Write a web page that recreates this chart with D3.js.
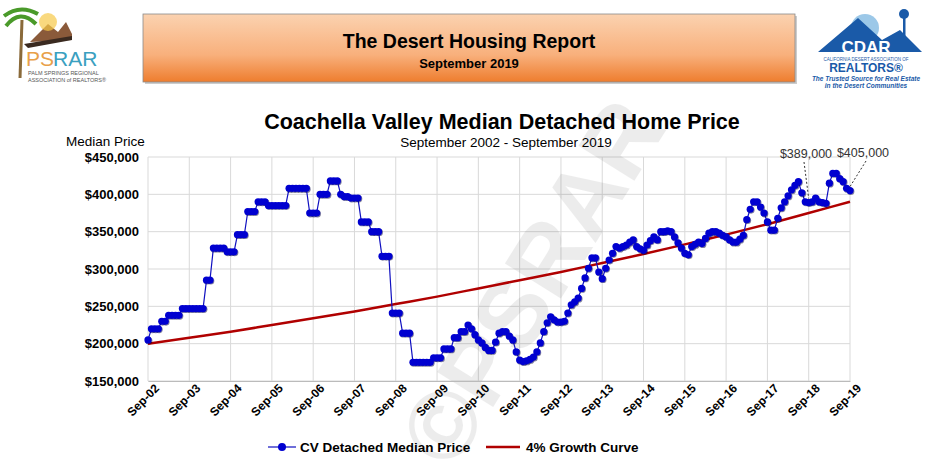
<!DOCTYPE html>
<html><head><meta charset="utf-8">
<script src="https://cdn.jsdelivr.net/npm/d3@7"></script>
<style>body{margin:0;background:#fff;font-family:Arial,"Liberation Sans",sans-serif}</style>
</head><body><div id="chart"></div>
<script>
// données (milliers de $), mensuel Sep-02 -> Sep-19
const medianPrice = [
205,220,220,220,230,230,238,238,238,238,247,247,247,247,247,247,247,285,285,328,
328,328,328,323,323,323,346,346,346,377,377,377,390,390,390,385,385,385,385,385,
385,408,408,408,408,408,408,375,375,375,400,400,400,418,418,418,400,397,397,395,
395,395,363,363,363,350,350,350,317,317,317,241,241,241,214,214,214,175,175,175,
175,175,175,181,181,181,193,193,193,208,208,216,216,225,220,212,205,201,195,191,
191,202,214,216,216,210,205,189,178,176,177,179,182,189,201,216,228,236,232,229,
229,230,241,252,256,261,274,288,301,315,315,296,287,301,312,321,330,328,330,332,
336,339,330,327,325,332,338,343,339,350,350,351,350,343,335,328,321,319,330,333,
336,334,341,348,350,350,348,345,343,339,336,336,340,345,366,380,390,390,383,375,
363,352,352,368,382,390,398,406,412,417,402,390,389,390,395,390,389,388,415,428,
428,421,417,408,405];
// courbe de croissance 4 % (valeur chaque septembre, milliers de $)
const growthCurve = [200,208,216,225,234,243,253,263,274,285,296,308,320,333,346,360,375,390];
const yearLabels = ["Sep-02","Sep-03","Sep-04","Sep-05","Sep-06","Sep-07","Sep-08","Sep-09","Sep-10",
  "Sep-11","Sep-12","Sep-13","Sep-14","Sep-15","Sep-16","Sep-17","Sep-18","Sep-19"];
const yTicks = [150,200,250,300,350,400,450];
const annotations = [{i:192, label:"$389,000", lx:806, ly:158}, {i:204, label:"$405,000", lx:863, ly:157}];

const W = 935, H = 463;
const svg = d3.select("#chart").append("svg").attr("width", W).attr("height", H);
const defs = svg.append("defs");
const grad = defs.append("linearGradient").attr("id","hdr").attr("x1",0).attr("y1",0).attr("x2",0).attr("y2",1);
grad.append("stop").attr("offset","0%").attr("stop-color","#fbd2b0");
grad.append("stop").attr("offset","60%").attr("stop-color","#f8b07c");
grad.append("stop").attr("offset","100%").attr("stop-color","#ee7d2e");

// en-tête
svg.append("rect").attr("x",145).attr("y",16).attr("width",652).attr("height",68)
  .attr("fill","#999").attr("opacity",0.5);
svg.append("rect").attr("x",143).attr("y",14).attr("width",652).attr("height",68)
  .attr("fill","url(#hdr)").attr("stroke","#8a8a8a").attr("stroke-width",0.8);
svg.append("text").attr("x",469).attr("y",48).attr("text-anchor","middle")
  .style("font-size","19.5px").style("font-weight","bold").text("The Desert Housing Report");
svg.append("text").attr("x",469).attr("y",68).attr("text-anchor","middle")
  .style("font-size","13px").style("font-weight","bold").text("September 2019");

// logo PSRAR (simplifié)
const lg = svg.append("g");
lg.append("path").attr("d","M30,42 L48,24 L58,32 L66,22 L72,34 L72,40 Z").attr("fill","#8a5a3a");
lg.append("circle").attr("cx",48).attr("cy",22).attr("r",9).attr("fill","#f7c948").attr("opacity",0.7);
lg.append("path").attr("d","M24,44 L72,36 L72,40 L28,48 Z").attr("fill","#3a2a20");
lg.append("line").attr("x1",22).attr("y1",20).attr("x2",20).attr("y2",78).attr("stroke","#8a6a3a").attr("stroke-width",3);
lg.append("path").attr("d","M4,16 Q20,4 38,14 M6,26 Q20,8 36,24").attr("fill","none").attr("stroke","#4a9a2a").attr("stroke-width",4);
lg.append("text").attr("x",26).attr("y",66).style("font-size","21px").style("fill","#e8a048").text("PS");
lg.append("text").attr("x",53).attr("y",66).style("font-size","21px").style("fill","#3aa0c0").text("RAR");
lg.append("text").attr("x",28).attr("y",75).style("font-size","5.5px").style("fill","#555").text("PALM SPRINGS REGIONAL");
lg.append("text").attr("x",28).attr("y",82).style("font-size","5.5px").style("fill","#555").text("ASSOCIATION of REALTORS®");

// logo CDAR (simplifié)
const cg = svg.append("g");
cg.append("circle").attr("cx",865).attr("cy",28).attr("r",14).attr("fill","#9cc8e8");
cg.append("path").attr("d","M818,52 L858,18 L882,40 L900,30 L922,52 Z").attr("fill","#1a5aa8");
cg.append("rect").attr("x",903).attr("y",14).attr("width",2.5).attr("height",30).attr("fill","#1a5aa8");
cg.append("circle").attr("cx",904).attr("cy",14).attr("r",5).attr("fill","#1a5aa8");
cg.append("text").attr("x",866).attr("y",53).attr("text-anchor","middle").style("font-size","17px")
  .style("font-weight","bold").style("fill","#fff").text("CDAR");
cg.append("text").attr("x",866).attr("y",61).attr("text-anchor","middle").style("font-size","4.5px")
  .style("fill","#1a5aa8").text("CALIFORNIA DESERT ASSOCIATION OF");
cg.append("text").attr("x",866).attr("y",72).attr("text-anchor","middle").style("font-size","12px")
  .style("font-weight","bold").style("fill","#1a5aa8").text("REALTORS®");
cg.append("text").attr("x",866).attr("y",81).attr("text-anchor","middle").style("font-size","6.5px")
  .style("font-style","italic").style("font-weight","bold").style("fill","#1a5aa8").text("The Trusted Source for Real Estate");
cg.append("text").attr("x",866).attr("y",88).attr("text-anchor","middle").style("font-size","6.5px")
  .style("font-style","italic").style("font-weight","bold").style("fill","#1a5aa8").text("in the Desert Communities");

// titres
svg.append("text").attr("x",502).attr("y",129).attr("text-anchor","middle")
  .style("font-size","21.5px").style("font-weight","bold").text("Coachella Valley Median Detached Home Price");
svg.append("text").attr("x",506).attr("y",147).attr("text-anchor","middle")
  .style("font-size","13.5px").text("September 2002 - September 2019");
svg.append("text").attr("x",66).attr("y",146).style("font-size","13.5px").text("Median Price");

// échelles
const x = d3.scaleLinear().domain([0, 204]).range([148, 850]);
const y = d3.scaleLinear().domain([150, 450]).range([381, 157]);

const grid = svg.append("g");
grid.selectAll(".gy").data(yTicks).join("line")
  .attr("x1",148).attr("x2",850).attr("y1",d=>y(d)).attr("y2",d=>y(d))
  .attr("stroke","#d9d9d9");
grid.selectAll(".gx").data(yearLabels).join("line")
  .attr("x1",(d,i)=>x(i*12)).attr("x2",(d,i)=>x(i*12)).attr("y1",157).attr("y2",381)
  .attr("stroke","#d9d9d9");

// filigrane
svg.append("text").attr("transform","translate(560,300) rotate(-58)").attr("text-anchor","middle")
  .style("font-size","96px").style("font-weight","bold").style("fill","#000").style("opacity",0.07)
  .text("©PSRAR");

// axes
const yAxis = d3.axisLeft(y).tickValues(yTicks).tickSize(0).tickPadding(9)
  .tickFormat(d => "$" + d3.format(",")(d*1000));
svg.append("g").attr("transform","translate(148,0)").call(yAxis)
  .call(g=>g.select(".domain").remove())
  .selectAll("text").style("font-size","13px").style("font-weight","bold").style("font-family","Arial,'Liberation Sans',sans-serif");

const xAxis = d3.axisBottom(x).tickValues(d3.range(0,205,12)).tickSize(0)
  .tickFormat((d,i)=>yearLabels[i]);
svg.append("g").attr("transform","translate(0,381)").call(xAxis)
  .call(g=>g.select(".domain").attr("stroke","#bbb"))
  .selectAll("text").attr("text-anchor","end").attr("dx","0.2em").attr("dy","0.9em")
  .attr("transform","rotate(-45)")
  .style("font-size","12px").style("font-weight","bold").style("font-family","Arial,'Liberation Sans',sans-serif");

// courbe 4 %
const line = d3.line().curve(d3.curveMonotoneX);
svg.append("path").datum(growthCurve.map((v,i)=>[x(i*12), y(v)]))
  .attr("d", line).attr("fill","none").attr("stroke","#b00000").attr("stroke-width",2.5);

// série prix médian
svg.append("path").datum(medianPrice.map((v,i)=>[x(i), y(v)]))
  .attr("d", d3.line()).attr("fill","none").attr("stroke","#1010c0").attr("stroke-width",1.2);
svg.append("g").selectAll("circle").data(medianPrice).join("circle")
  .attr("cx",(d,i)=>x(i)+0.8).attr("cy",d=>y(d)+0.8).attr("r",3.6).attr("fill","#000040").attr("opacity",0.5);
svg.append("g").selectAll("circle").data(medianPrice).join("circle")
  .attr("cx",(d,i)=>x(i)).attr("cy",d=>y(d)).attr("r",3.6).attr("fill","#0000d0");

// annotations
annotations.forEach(a => {
  svg.append("line").attr("x1",a.lx+(a.i===204?3:-2)).attr("y1",a.ly+4)
    .attr("x2",x(a.i)).attr("y2",y(medianPrice[a.i])-4)
    .attr("stroke","#333").attr("stroke-dasharray","2,2");
  svg.append("text").attr("x",a.lx).attr("y",a.ly).attr("text-anchor","middle")
    .style("font-size","12.5px").style("fill","#333").text(a.label);
});

// légende
const leg = svg.append("g");
leg.append("line").attr("x1",268).attr("x2",296).attr("y1",447).attr("y2",447).attr("stroke","#1010c0").attr("stroke-width",1.2);
leg.append("circle").attr("cx",282).attr("cy",447).attr("r",4).attr("fill","#0000d0");
leg.append("text").attr("x",300).attr("y",452).style("font-size","13.5px").style("font-weight","bold").text("CV Detached Median Price");
leg.append("line").attr("x1",486).attr("x2",520).attr("y1",447).attr("y2",447).attr("stroke","#b00000").attr("stroke-width",2.5);
leg.append("text").attr("x",526).attr("y",452).style("font-size","13.5px").style("font-weight","bold").text("4% Growth Curve");
</script></body></html>
